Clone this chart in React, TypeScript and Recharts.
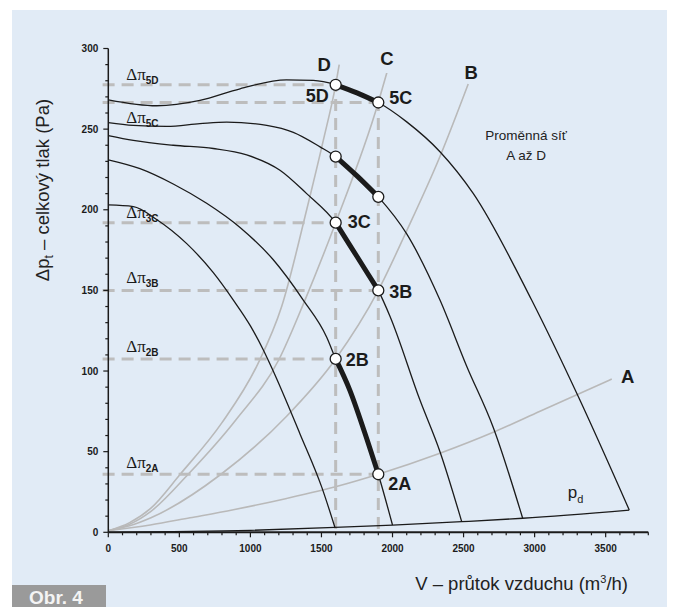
import { LineChart, Line, XAxis, YAxis, ReferenceLine, ReferenceDot } from 'recharts'

type P = [number, number]

// axis ticks (minor every 100 m3/h and every 10 Pa, labelled ones below)
const xTicks = [0, 100, 200, 300, 400, 500, 600, 700, 800, 900, 1000, 1100, 1200, 1300, 1400, 1500, 1600, 1700, 1800, 1900, 2000, 2100, 2200, 2300, 2400, 2500, 2600, 2700, 2800, 2900, 3000, 3100, 3200, 3300, 3400, 3500, 3600, 3700, 3800]
const xTickLabels = [0, 500, 1000, 1500, 2000, 2500, 3000, 3500]
const yTicks = [0, 10, 20, 30, 40, 50, 60, 70, 80, 90, 100, 110, 120, 130, 140, 150, 160, 170, 180, 190, 200, 210, 220, 230, 240, 250, 260, 270, 280, 290, 300]
const yTickLabels = [0, 50, 100, 150, 200, 250, 300]

// fan curves, speed steps 1..5  [V (m3/h), dp (Pa)]
const fan1: P[] = [[0, 203], [176, 202], [340, 194], [552, 179], [739, 161], [880, 144], [1000, 128], [1091, 113], [1150, 102], [1349, 61], [1502, 28], [1595, 3]]
const fan2: P[] = [[0, 231], [223, 225.5], [457, 216], [692, 204], [927, 189], [1161, 169], [1372, 144], [1537, 121], [1600, 107.5], [1700, 88], [1800, 63], [1900, 36], [2000, 4.5]]
const fan3: P[] = [[0, 246], [176, 243], [457, 240], [739, 238], [974, 234], [1208, 224.5], [1396, 210], [1600, 192], [1750, 171], [1900, 150], [1982, 134], [2193, 82], [2334, 50], [2487, 6.6]]
const fan4: P[] = [[0, 254], [176, 252.3], [411, 251.7], [645, 253.4], [833, 254.4], [1115, 252.3], [1302, 248], [1490, 239], [1600, 233], [1750, 221], [1900, 208], [2100, 185], [2334, 144], [2522, 103], [2709, 65], [2916, 8.7]]
const fan5: P[] = [[0, 268.2], [340, 264.5], [645, 267.8], [927, 275], [1253, 280.6], [1443, 280.2], [1600, 277.5], [1750, 272.5], [1900, 266.5], [2100, 254.5], [2334, 236], [2569, 210], [2979, 144], [3308, 84], [3666, 13.8]]

// dynamic pressure pd
const pd: P[] = [[0, 0], [1000, 1.2], [1595, 3], [2000, 4.5], [2487, 6.6], [2916, 8.7], [3666, 13.8]]

// operating ranges (thick)
const op5: P[] = [[1600, 277.5], [1750, 272.5], [1900, 266.5]]
const op4: P[] = [[1600, 233], [1750, 221], [1900, 208]]
const op3: P[] = [[1600, 192], [1750, 171], [1900, 150]]
const op2: P[] = [[1600, 107.5], [1700, 88], [1800, 63], [1900, 36]]

// system (network) curves A..D
const sysA: P[] = [[0, 1], [295, 4.5], [575, 9], [880, 14], [1255, 21], [1631, 29], [1900, 36], [2334, 49], [2709, 62], [3038, 75], [3543, 95]]
const sysB: P[] = [[0, 1], [150, 4], [300, 9], [793, 36], [1255, 72], [1600, 107.5], [1900, 150], [2100, 187], [2334, 233], [2533, 278]]
const sysC: P[] = [[0, 1], [150, 5], [300, 13], [562, 36], [900, 70], [1200, 107], [1384, 144], [1600, 192], [1900, 266.5], [1960, 285]]
const sysD: P[] = [[0, 1], [150, 6], [300, 15], [506, 36], [800, 68], [1050, 104], [1220, 140], [1396, 200], [1513, 243], [1600, 277.5], [1625, 290]]

const sysNames = ['A', 'B', 'C', 'D']

// working points
const points = [
  { name: '5D', x: 1600, y: 277.5 },
  { name: '5C', x: 1900, y: 266.5 },
  { name: '', x: 1600, y: 233 },
  { name: '', x: 1900, y: 208 },
  { name: '3C', x: 1600, y: 192 },
  { name: '3B', x: 1900, y: 150 },
  { name: '2B', x: 1600, y: 107.5 },
  { name: '2A', x: 1900, y: 36 },
]

// pressure levels dpi
const levels = [
  { sub: '5D', y: 277.5, to: 1600 },
  { sub: '5C', y: 266.5, to: 1900 },
  { sub: '3C', y: 192, to: 1600 },
  { sub: '3B', y: 150, to: 1900 },
  { sub: '2B', y: 107.5, to: 1600 },
  { sub: '2A', y: 36, to: 1900 },
]

const SANS = "'Liberation Sans', Arial, sans-serif"
const SERIF = "'Liberation Serif', 'Times New Roman', serif"
const INK = '#1b1b1b'
const GRAY = '#b9b9b9'

const toPts = (a: P[]) => a.map(([x, y]) => ({ x, y }))

// label offsets in px from the anchor point
const pointLabelPos: Record<string, [number, number, 'start' | 'end']> = {
  '5D': [-7, 11, 'end'],
  '5C': [11, -5, 'start'],
  '3C': [12, -1, 'start'],
  '3B': [11, 1, 'start'],
  '2B': [10, 1, 'start'],
  '2A': [10, 9, 'start'],
}
const levelLabelDy: Record<string, number> = { '5D': -11, '5C': 15, '3C': -10, '3B': -13, '2B': -12.5, '2A': -12.5 }
const sysLabelPos: Record<string, [number, number]> = { A: [16, -3], B: [3, -12], C: [0, -14], D: [-15, 0] }

function XTick(props: any) {
  const { x, y, payload } = props
  const v = payload.value
  const major = xTickLabels.includes(v)
  return (
    <g>
      <line x1={x} y1={y} x2={x} y2={y + (major ? 5 : 3)} stroke={INK} strokeWidth={1.2} />
      {major && (
        <text x={x} y={y + 20} textAnchor="middle" fontFamily={SANS} fontWeight="bold" fontSize={10} fill={INK}>
          {v}
        </text>
      )}
    </g>
  )
}

function YTick(props: any) {
  const { x, y, payload } = props
  const v = payload.value
  const major = yTickLabels.includes(v)
  return (
    <g>
      <line x1={x - (major ? 5 : 3)} y1={y} x2={x} y2={y} stroke={INK} strokeWidth={1.2} />
      {major && (
        <text x={x - 10} y={y} dy="0.35em" textAnchor="end" fontFamily={SANS} fontWeight="bold" fontSize={10} fill={INK}>
          {v}
        </text>
      )}
    </g>
  )
}

export default function App() {
  const fans = [fan1, fan2, fan3, fan4, fan5]
  const ops = [op2, op3, op4, op5]
  const systems = [sysA, sysB, sysC, sysD]

  return (
    <div style={{ position: 'absolute', left: 0, top: 0, width: 679, height: 607, background: '#fff', overflow: 'hidden' }}>
      <svg width={679} height={607} style={{ position: 'absolute', left: 0, top: 0 }}>
        <rect x={12} y={10} width={655} height={597} fill="#e1ebf6" />
        <rect x={12} y={585} width={94} height={22} fill="#9a9a9a" />
        <text x={29} y={604} fontFamily={SANS} fontWeight="bold" fontSize={19} fill="#f4f4f4">
          Obr. 4
        </text>
        <text
          transform="translate(49, 190) rotate(-90)"
          textAnchor="middle"
          fontFamily={SANS}
          fontSize={18.5}
          fill="#222"
        >
          Δp<tspan fontSize={12} dy={4}>t</tspan>
          <tspan dy={-4}> – celkový tlak (Pa)</tspan>
        </text>
        <text x={628} y={590} textAnchor="end" fontFamily={SANS} fontSize={18.5} fill="#222">
          V – průtok vzduchu (m<tspan fontSize={11} dy={-7}>3</tspan>
          <tspan dy={7}>/h)</tspan>
        </text>
      </svg>
      <LineChart
        width={679}
        height={607}
        margin={{ top: 48.5, right: 30.7, bottom: 44.7, left: 48.3 }}
        style={{ position: 'absolute', left: 0, top: 0 }}
      >
        <XAxis
          dataKey="x"
          type="number"
          domain={[0, 3800]}
          ticks={xTicks}
          interval={0}
          tick={(p: any) => <XTick {...p} />}
          tickLine={false}
          tickSize={0}
          tickMargin={0}
          axisLine={{ stroke: INK, strokeWidth: 2 }}
          height={30}
          allowDataOverflow
        />
        <YAxis
          type="number"
          domain={[0, 300]}
          ticks={yTicks}
          interval={0}
          tick={(p: any) => <YTick {...p} />}
          tickLine={false}
          tickSize={0}
          tickMargin={0}
          axisLine={{ stroke: INK, strokeWidth: 1.5 }}
          width={60}
          allowDataOverflow
        />

        {systems.map((s, i) => (
          <Line
            key={'sys' + i}
            data={toPts(s)}
            dataKey="y"
            type="monotone"
            stroke={GRAY}
            strokeWidth={1.6}
            dot={false}
            activeDot={false}
            isAnimationActive={false}
          />
        ))}

        {levels.map((l) => (
          <ReferenceLine
            key={'h' + l.sub}
            segment={[{ x: -40, y: l.y }, { x: l.to, y: l.y }]}
            stroke="#bdbdbd"
            strokeWidth={3}
            strokeDasharray="12 7"
            ifOverflow="visible"
          />
        ))}
        <ReferenceLine segment={[{ x: 1600, y: 2 }, { x: 1600, y: 277.5 }]} stroke="#bdbdbd" strokeWidth={3} strokeDasharray="12 7" ifOverflow="visible" />
        <ReferenceLine segment={[{ x: 1900, y: 2 }, { x: 1900, y: 266.5 }]} stroke="#bdbdbd" strokeWidth={3} strokeDasharray="12 7" ifOverflow="visible" />

        <Line data={toPts(pd)} dataKey="y" type="monotone" stroke={INK} strokeWidth={1.3} dot={false} activeDot={false} isAnimationActive={false} />
        {fans.map((f, i) => (
          <Line
            key={'fan' + i}
            data={toPts(f)}
            dataKey="y"
            type="monotone"
            stroke={INK}
            strokeWidth={1.3}
            dot={false}
            activeDot={false}
            isAnimationActive={false}
          />
        ))}
        {ops.map((o, i) => (
          <Line
            key={'op' + i}
            data={toPts(o)}
            dataKey="y"
            type="monotone"
            stroke={INK}
            strokeWidth={5}
            dot={false}
            activeDot={false}
            isAnimationActive={false}
          />
        ))}

        {systems.map((s, i) => {
          const last = s[s.length - 1]
          const [dx, dy] = sysLabelPos[sysNames[i]]
          return (
            <ReferenceDot
              key={'sl' + i}
              x={last[0]}
              y={last[1]}
              ifOverflow="visible"
              shape={(p: any) => (
                <text x={p.cx + dx} y={p.cy + dy} dy="0.36em" textAnchor="middle" fontFamily={SANS} fontWeight="bold" fontSize={18.5} fill={INK}>
                  {sysNames[i]}
                </text>
              )}
            />
          )
        })}

        {levels.map((l) => (
          <ReferenceDot
            key={'ll' + l.sub}
            x={0}
            y={l.y}
            ifOverflow="visible"
            shape={(p: any) => (
              <text x={p.cx + 18} y={p.cy + levelLabelDy[l.sub]} dy="0.36em" fill={INK}>
                <tspan fontFamily={SERIF} fontSize={17}>Δπ</tspan>
                <tspan fontFamily={SANS} fontWeight="bold" fontSize={10} dy={4}>
                  {l.sub}
                </tspan>
              </text>
            )}
          />
        ))}

        <ReferenceDot
          x={2916}
          y={8.7}
          ifOverflow="visible"
          shape={(p: any) => (
            <text x={p.cx + 45} y={p.cy - 20} fontFamily={SANS} fontSize={17} fill={INK}>
              p<tspan fontSize={11} dy={5}>d</tspan>
            </text>
          )}
        />
        <ReferenceDot
          x={2940}
          y={246}
          ifOverflow="visible"
          shape={(p: any) => (
            <text x={p.cx} y={p.cy} dy="0.36em" textAnchor="middle" fontFamily={SANS} fontSize={13.5} fill="#222">
              <tspan x={p.cx}>Proměnná síť</tspan>
              <tspan x={p.cx} dy={20}>A až D</tspan>
            </text>
          )}
        />

        {points.map((pt, i) => (
          <ReferenceDot
            key={'pt' + i}
            x={pt.x}
            y={pt.y}
            ifOverflow="visible"
            shape={(p: any) => {
              const pos = pointLabelPos[pt.name]
              return (
                <g>
                  <circle cx={p.cx} cy={p.cy} r={5.5} fill="#fff" stroke={INK} strokeWidth={1.3} />
                  {pos && (
                    <text x={p.cx + pos[0]} y={p.cy + pos[1]} dy="0.36em" textAnchor={pos[2]} fontFamily={SANS} fontWeight="bold" fontSize={18} fill={INK}>
                      {pt.name}
                    </text>
                  )}
                </g>
              )
            }}
          />
        ))}
      </LineChart>
    </div>
  )
}
